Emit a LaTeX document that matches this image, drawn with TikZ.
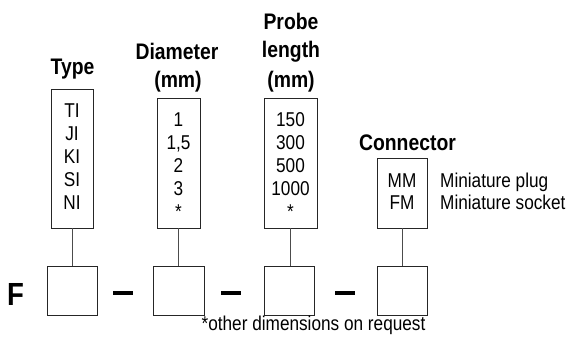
\documentclass[tikz,border=0pt]{standalone}
\usepackage{fontspec}
\setmainfont{Liberation Sans}[FakeStretch=0.86]
\begin{document}
\begin{tikzpicture}[x=1pt,y=-1pt,
  boxnode/.style={draw=black!85, line width=0.8pt, inner sep=0pt, minimum width=#1},
  lst/.style={font=\fontsize{20}{23}\selectfont, inner sep=0pt, anchor=base},
  side/.style={font=\fontsize{20}{23}\selectfont, inner sep=0pt, anchor=base west},
  ttl/.style={font=\bfseries\fontsize{22.5}{28.5}\selectfont, inner sep=0pt, anchor=base},
  link/.style={draw=black!70, line width=0.7pt},
  hyph/.style={fill=black, inner sep=0pt, minimum width=20pt, minimum height=3.5pt}
]
\useasboundingbox (0,0) rectangle (569,340);

% titles
\node[ttl] (tType) at (72.5,74) {Type};
\node[ttl] (tDia1) at (177,59) {Diameter};
\node[ttl] (tDia2) at (178,87) {(mm)};
\node[ttl] (tPr1) at (291,29) {Probe};
\node[ttl] (tPr2) at (291,57) {length};
\node[ttl] (tPr3) at (291,87) {(mm)};
\node[ttl] (tCon) at (407.5,150) {Connector};

% option boxes
\node[boxnode=42pt, minimum height=139pt] (ty) at (72,158.5) {};
\node[boxnode=43pt, minimum height=130pt] (di) at (178.5,163) {};
\node[boxnode=53pt, minimum height=130pt] (pr) at (290.5,163) {};
\node[boxnode=50pt, minimum height=70pt] (co) at (402,193) {};

% lists
\foreach \t [count=\i] in {TI,JI,KI,SI,NI}
  \node[lst] (ty\i) at (72,117+23*\i-23) {\t};
\foreach \t [count=\i] in {1,{1,5},2,3,*}
  \node[lst] (di\i) at (178.5,126+23*\i-23) {\t};
\foreach \t [count=\i] in {150,300,500,1000,*}
  \node[lst] (pr\i) at (290.5,126+23*\i-23) {\t};
\node[lst] (co1) at (402,187) {MM};
\node[lst] (co2) at (402,209) {FM};
\node[side] (mp) at (440,187) {Miniature plug};
\node[side] (ms) at (440,209) {Miniature socket};

% code boxes
\node[font=\bfseries\fontsize{32}{36}\selectfont, inner sep=0pt, anchor=base] (F) at (15.5,305) {F};
\node[boxnode=50pt, minimum height=49.5pt] (b1) at (72,290.75) {};
\node[boxnode=51pt, minimum height=49.5pt] (b2) at (178.5,290.75) {};
\node[boxnode=50pt, minimum height=49.5pt] (b3) at (289,290.75) {};
\node[boxnode=50pt, minimum height=49.5pt] (b4) at (402,290.75) {};

\node[hyph] (h1) at (123,293) {};
\node[hyph] (h2) at (231,293) {};
\node[hyph] (h3) at (345,293) {};

% links
\draw[link] (ty.south) -- (ty.south |- b1.north);
\draw[link] (di.south) -- (di.south |- b2.north);
\draw[link] (pr.south) -- (pr.south |- b3.north);
\draw[link] (co.south) -- (co.south |- b4.north);

\node[lst] (foot) at (313.5,330) {*other dimensions on request};
\end{tikzpicture}
\end{document}
